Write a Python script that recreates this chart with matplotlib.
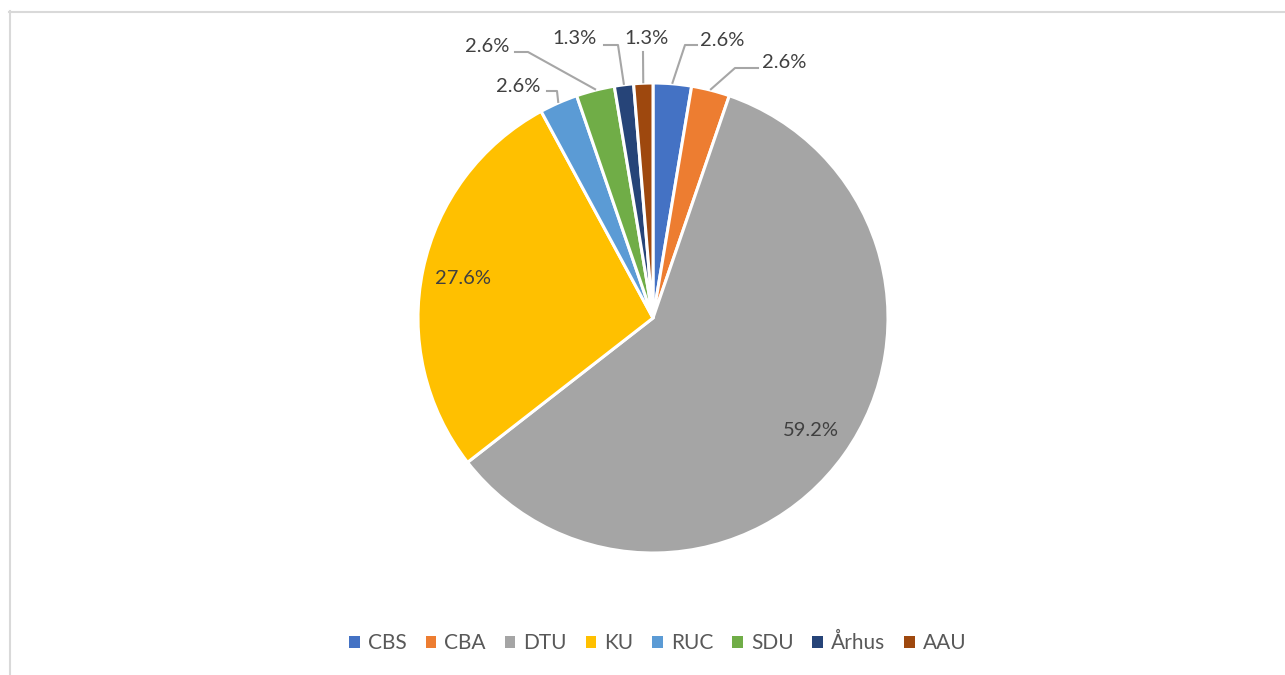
import numpy as np
import matplotlib
matplotlib.use('Agg')
import matplotlib.pyplot as plt
from matplotlib.patches import Patch
from matplotlib.lines import Line2D

# universitet -> antal
schools = ['CBS', 'CBA', 'DTU', 'KU', 'RUC', 'SDU', 'Århus', 'AAU']
counts = [2, 2, 45, 21, 2, 2, 1, 1]
colors = ['#4472C4', '#ED7D31', '#A5A5A5', '#FFC000',
          '#5B9BD5', '#70AD47', '#264478', '#9E480E']

W, H = 1285, 675
plt.rcParams['font.family'] = ['Lato', 'DejaVu Sans']

fig = plt.figure(figsize=(W / 100, H / 100), dpi=100)
ax = fig.add_axes([0, 0, 1, 1])

cx, cy, r = 653, H - 318, 235
wedges, _ = ax.pie(counts, colors=colors, startangle=90, counterclock=False,
                   center=(cx, cy), radius=r,
                   wedgeprops=dict(edgecolor='white', linewidth=2.2))
ax.set_xlim(0, W)
ax.set_ylim(0, H)
ax.set_aspect('equal')
ax.axis('off')

total = sum(counts)
pct = [f'{100 * c / total:.1f}%' for c in counts]
mid = [np.deg2rad((w.theta1 + w.theta2) / 2) for w in wedges]

# labels inside the two big slices
for i in (2, 3):
    ax.text(cx + 0.825 * r * np.cos(mid[i]), cy + 0.825 * r * np.sin(mid[i]),
            pct[i], ha='center', va='center', fontsize=14.5, color='#404040')

# outside labels with leader lines: elbow, line end, text pos, alignment (pixels, y down)
outside = {
    0: ((685, 45), (697, 45), (700, 40), 'left'),
    1: ((735, 68), (758, 68), (762, 62), 'left'),
    4: ((557, 91), (547, 91), (540, 87), 'right'),
    5: ((528, 52), (515, 52), (509, 46), 'right'),
    6: ((618, 45), (604, 45), (597, 38), 'right'),
    7: ((643, 52), (643, 52), (646, 38), 'center'),
}
for i, (elbow, end, txt, ha) in outside.items():
    ax0 = cx + (r + 1) * np.cos(mid[i])
    ay0 = cy + (r + 1) * np.sin(mid[i])
    ax.add_line(Line2D([ax0, elbow[0], end[0]], [ay0, H - elbow[1], H - end[1]],
                       color='#A6A6A6', lw=1.5))
    ax.text(txt[0], H - txt[1], pct[i], ha=ha, va='center',
            fontsize=14.5, color='#404040')

# chart frame
fig.add_artist(Line2D([9.5 / W, 9.5 / W], [0, 1 - 11 / H],
                      transform=fig.transFigure, color='#D9D9D9', lw=1.5))
fig.add_artist(Line2D([9 / W, 1], [1 - 11.5 / H, 1 - 11.5 / H],
                      transform=fig.transFigure, color='#D9D9D9', lw=1.5))

handles = [Patch(facecolor=c, edgecolor='none') for c in colors]
fig.legend(handles, schools, loc='center', bbox_to_anchor=(658 / W, 1 - 643 / H),
           ncol=8, frameon=False, fontsize=15, handlelength=0.5, handleheight=0.5,
           handletextpad=0.4, columnspacing=0.9, labelcolor='#595959')

fig.savefig('out.png', dpi=100)
